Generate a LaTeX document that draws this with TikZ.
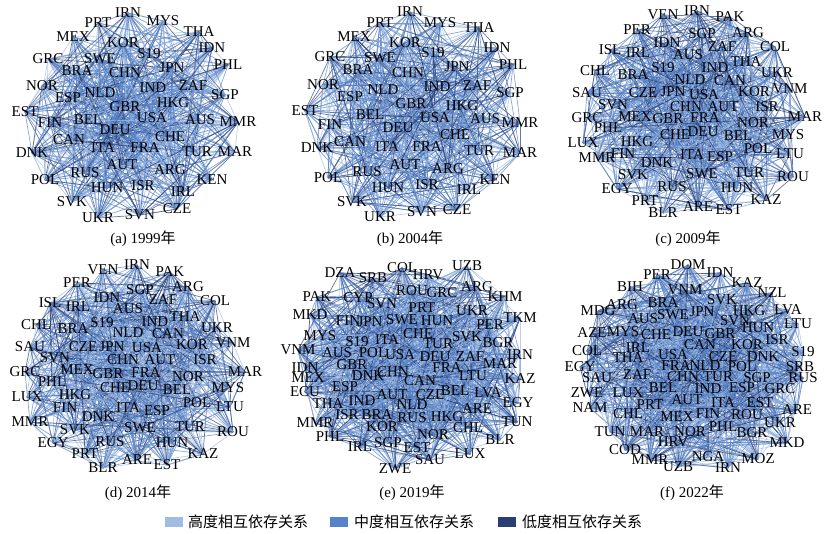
\documentclass[tikz,border=0pt]{standalone}
\usepackage{fontspec}
\setmainfont{Liberation Serif}
\newfontfamily\cjk{Noto Sans CJK SC}
\usetikzlibrary{backgrounds}
\definecolor{highc}{RGB}{160,188,228}
\definecolor{midc}{RGB}{85,130,200}
\definecolor{lowc}{RGB}{42,62,115}
\tikzset{
  lab/.style={font=\fontsize{15}{15}\selectfont,inner sep=0pt,text=black},
  edge/.style={line width=0.7pt,opacity=0.7},
  capt/.style={font=\fontsize{15}{16}\selectfont,inner sep=0pt},
  legbox/.style={minimum width=18pt,minimum height=10pt,inner sep=0pt},
  legtxt/.style={anchor=west,inner sep=0pt,font=\cjk\fontsize{15}{15}\selectfont}
}
\newcommand\mkpanel[3]{%
  \foreach \nm/\x/\y [count=\i] in {#2} {\node[lab] (#1\i) at (\x,\y) {\nm}; \xdef\lastn{\i}}
  \begin{scope}[on background layer]
  \foreach \k in {1,...,#3} {
    \pgfmathrandominteger{\ri}{1}{\lastn}
    \pgfmathrandominteger{\rj}{1}{\lastn}
    \pgfmathrandominteger{\rc}{1}{20}
    \ifnum\rc<8 \def\col{highc}\else\ifnum\rc<17 \def\col{midc}\else\def\col{lowc}\fi\fi
    \ifnum\ri=\rj\relax\else\draw[edge,draw=\col] (#1\ri.center) -- (#1\rj.center);\fi
  }
  \end{scope}}
\begin{document}
\begin{tikzpicture}[x=1pt,y=-1pt]
\pgfmathsetseed{7}
\begin{scope}[on background layer]
\fill[white] (0,0) rectangle (826,534);
\end{scope}
\useasboundingbox (0,0) rectangle (826,534);
% (a) 1999
\mkpanel{a}{IRN/128/13, PRT/98/23, MYS/163/21, THA/199/32, MEX/73/37, KOR/123/43, IDN/212/48, GRC/48/59, SWE/100/59, S19/149/54, PHL/228/65, BRA/77/71, CHN/125/73, JPN/172/68, NOR/42/86, IND/153/88, ZAF/193/86, SGP/225/95, ESP/68/98, NLD/100/93, GBR/125/107, HKG/173/103, EST/25/112, FIN/50/123, BEL/88/120, USA/152/118, AUS/200/120, MMR/238/122, DEU/115/130, CHE/170/137, CAN/69/140, DNK/32/153, ITA/103/148, FRA/145/148, TUR/197/152, MAR/235/152, AUT/122/165, ARG/170/170, RUS/85/173, KEN/212/180, POL/45/180, HUN/107/188, ISR/143/186, IRL/183/192, SVK/72/202, CZE/177/209, SVN/140/215, UKR/98/218}{800}
\node[capt] (capa) at (143,239) {(a) 1999{\cjk 年}};
% (b) 2004
\mkpanel{b}{IRN/410/12, PRT/380/23, MYS/440/23, THA/479/28, MEX/354/37, KOR/405/43, IDN/497/48, GRC/330/57, SWE/380/58, S19/433/53, PHL/513/65, BRA/358/70, CHN/408/73, JPN/457/67, NOR/323/85, IND/437/87, ZAF/477/86, SGP/510/93, ESP/350/97, NLD/383/90, GBR/411/104, HKG/462/106, EST/305/111, FIN/330/125, BEL/370/115, USA/435/118, AUS/485/119, MMR/520/123, DEU/398/128, CHE/455/135, CAN/350/142, DNK/317/148, ITA/387/147, FRA/427/147, TUR/479/151, MAR/520/153, AUT/405/165, ARG/448/169, RUS/367/172, POL/328/178, KEN/495/180, HUN/388/188, ISR/427/185, IRL/469/190, SVK/352/202, CZE/457/210, SVN/422/212, UKR/380/217}{800}
\node[capt] (capb) at (410,239) {(b) 2004{\cjk 年}};
% (c) 2009
\mkpanel{c}{VEN/663/15, IRN/697/11, PAK/730/17, PER/637/30, SGP/702/34, ARG/748/33, IDN/667/43, ZAF/722/47, COL/775/47, ISL/610/50, IRL/638/53, AUS/688/55, THA/746/62, CHL/595/71, BRA/633/75, S19/663/68, IND/715/68, UKR/777/73, NLD/690/80, CAN/730/81, SAU/587/93, CZE/643/93, JPN/673/92, USA/704/95, KOR/754/92, VNM/790/89, SVN/613/105, CHN/686/107, AUT/723/107, ISR/767/107, GRC/587/118, MEX/635/117, GBR/668/119, FRA/705/118, NOR/753/123, MAR/805/117, PHL/608/128, CHE/675/135, DEU/703/132, BEL/738/136, MYS/788/135, LUX/583/143, HKG/637/142, POL/758/149, LTU/790/154, FIN/623/154, ITA/692/155, ESP/720/157, DNK/657/163, MMR/597/158, SVK/633/175, SWE/702/174, TUR/749/173, ROU/793/177, EGY/617/189, RUS/672/187, HUN/737/188, PRT/645/201, KAZ/766/200, ARE/698/207, EST/729/210, BLR/663/213}{1000}
\node[capt] (capc) at (688,239) {(c) 2009{\cjk 年}};
% (d) 2014
\mkpanel{d}{VEN/103/270, IRN/137/265, PAK/170/272, PER/77/283, SGP/140/290, ARG/188/287, IDN/107/298, ZAF/163/300, COL/215/301, ISL/50/303, IRL/78/307, AUS/128/309, THA/185/317, CHL/36/325, BRA/73/329, S19/102/323, IND/155/322, UKR/217/328, NLD/128/333, CAN/168/334, SAU/30/347, CZE/83/347, JPN/112/347, USA/147/348, KOR/192/345, VNM/233/343, SVN/55/358, CHN/123/360, AUT/160/360, ISR/205/360, GRC/25/372, MEX/77/370, GBR/108/374, FRA/146/373, NOR/188/377, MAR/245/372, PHL/52/382, CHE/115/388, DEU/143/386, BEL/177/390, MYS/228/388, LUX/27/397, HKG/75/395, POL/197/403, LTU/230/407, FIN/65/408, ITA/128/408, ESP/157/411, DNK/98/417, MMR/30/422, SVK/75/430, SWE/140/428, TUR/190/427, ROU/233/432, EGY/53/443, RUS/110/442, HUN/172/443, PRT/85/454, KAZ/203/454, ARE/137/460, EST/167/465, BLR/103/468}{1000}
\node[capt] (capd) at (138,493) {(d) 2014{\cjk 年}};
% (e) 2019
\mkpanel{e}{DZA/340/273, SRB/373/278, COL/402/268, HRV/428/275, UZB/467/266, ARG/477/287, PAK/317/297, CYP/358/298, ROU/412/291, GRC/442/293, KHM/505/297, SVN/382/304, PRT/422/308, UKR/472/311, MKD/310/315, FIN/348/321, JPN/370/322, SWE/402/320, HUN/437/321, PER/490/325, TKM/520/318, MYS/320/336, S19/357/342, ITA/387/340, CHE/418/334, TUR/438/344, SVK/467/337, BGR/498/343, VNM/298/350, AUS/337/353, POL/373/353, USA/400/355, DEU/435/357, ZAF/470/357, IRN/520/355, MAR/500/364, IDN/305/368, GBR/352/365, DNK/368/376, CHN/393/372, FRA/447/368, LTU/473/376, KAZ/520/379, MEX/308/378, ECU/305/392, ESP/345/387, CAN/420/381, BEL/455/391, LVA/488/393, AUT/392/395, CZE/430/395, THA/328/404, IND/362/401, NLD/412/405, EGY/518/403, ARE/477/409, MMR/315/423, ISR/347/415, BRA/377/415, RUS/412/418, HKG/447/417, TUN/517/422, KOR/382/427, CHL/468/428, NOR/433/435, PHL/330/437, BLR/500/440, IRL/360/447, SGP/388/443, EST/417/448, LUX/470/454, SAU/430/460, ZWE/395/469}{1300}
\node[capt] (cape) at (412,493) {(e) 2019{\cjk 年}};
% (f) 2022
\mkpanel{f}{DOM/688/265, PER/657/275, IDN/720/273, BIH/630/287, VNM/685/290, KAZ/747/283, NZL/772/293, ARG/622/305, BRA/663/303, SVK/722/300, MDG/598/311, AUS/643/319, SWE/673/315, JPN/702/312, HKG/749/311, LVA/788/310, SVN/735/321, LTU/798/324, AZE/592/333, MYS/623/332, CHE/656/335, DEU/688/332, GBR/720/334, HUN/758/328, CAN/700/345, KOR/747/345, ISR/777/340, COL/587/351, IRL/638/348, S19/803/352, THA/628/358, USA/673/355, CZE/723/357, DNK/763/357, EGY/580/367, FRA/676/366, NLD/705/366, POL/742/367, SRB/800/367, SAU/597/378, ZAF/637/375, CHN/683/377, TUR/718/377, SGP/757/378, RUS/803/378, ZWE/587/393, LUX/628/393, BEL/663/388, IND/708/389, ESP/742/388, GRC/780/389, AUT/687/400, NAM/590/408, PRT/650/405, ITA/723/403, EST/760/403, ARE/797/410, CHL/628/414, MEX/677/417, FIN/708/414, ROU/747/415, UKR/780/423, TUN/610/432, MAR/647/432, NOR/690/432, PHL/723/427, BGR/752/433, MKD/787/443, HRV/673/442, COD/625/450, NGA/708/457, MOZ/758/459, MMR/650/460, UZB/678/467, IRN/728/468}{1300}
\node[capt] (capf) at (692,493) {(f) 2022{\cjk 年}};
% legend
\node[legbox,fill=highc] (lg1) at (174,522) {};
\node[legtxt] (lt1) at (188,522) {高度相互依存关系};
\node[legbox,fill=midc] (lg2) at (339,522) {};
\node[legtxt] (lt2) at (354,522) {中度相互依存关系};
\node[legbox,fill=lowc] (lg3) at (507,522) {};
\node[legtxt] (lt3) at (522,522) {低度相互依存关系};
\end{tikzpicture}
\end{document}
